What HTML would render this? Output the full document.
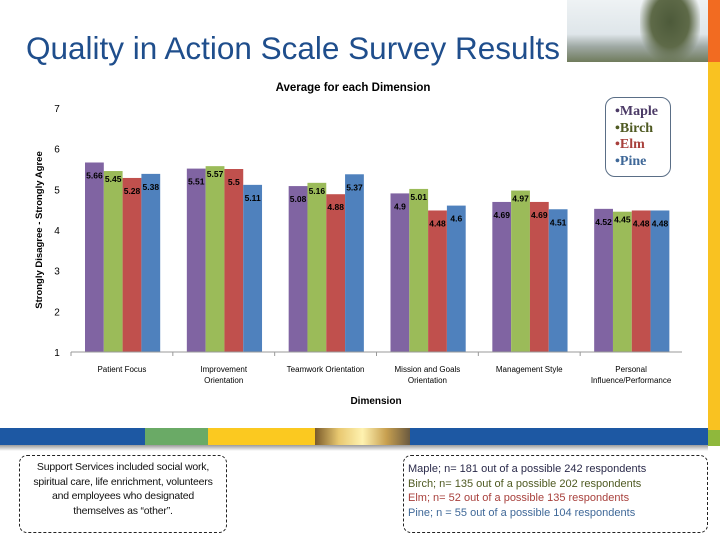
<!DOCTYPE html>
<html><head><meta charset="utf-8"><style>
body{margin:0;width:720px;height:540px;overflow:hidden;background:#fff;position:relative;font-family:"Liberation Sans",sans-serif}
.abs{position:absolute}
</style></head><body>
<div class="abs" style="left:26px;top:30px;font-size:31.5px;color:#1f4e8c;white-space:nowrap">Quality in Action Scale Survey Results</div>
<div class="abs" style="left:567px;top:0;width:141px;height:62px;background:linear-gradient(180deg,#eef2f4 0%,#dfe6ea 55%,#9fa9a4 75%,#6f7b5c 100%)"></div>
<div class="abs" style="left:640px;top:0;width:60px;height:62px;background:radial-gradient(ellipse at 50% 35%,#4d5a3a 0%,#5e6a48 45%,rgba(200,210,200,0) 75%)"></div>
<div class="abs" style="left:708px;top:0;width:12px;height:62px;background:#f26b21"></div>
<div class="abs" style="left:708px;top:62px;width:12px;height:368px;background:#f9c221"></div>
<div class="abs" style="left:708px;top:430px;width:12px;height:16px;background:#8fb83c"></div>
<div class="abs" style="left:0;top:428px;width:145px;height:17px;background:#1d58a3"></div>
<div class="abs" style="left:145px;top:428px;width:63px;height:17px;background:#6aaa66"></div>
<div class="abs" style="left:208px;top:428px;width:107px;height:17px;background:#fbc920"></div>
<div class="abs" style="left:315px;top:428px;width:95px;height:17px;background:linear-gradient(90deg,#7a5a2a,#e8c870,#fff2b0,#c8a050,#6a5a40)"></div>
<div class="abs" style="left:410px;top:428px;width:298px;height:17px;background:#1d58a3"></div>
<div class="abs" style="left:0;top:445px;width:708px;height:6px;background:linear-gradient(#9a9a9a,#fff)"></div>

<svg class="abs" style="left:0;top:0" width="720" height="420" font-family="Liberation Sans,sans-serif">
<text x="353" y="91" font-size="11.5" font-weight="bold" text-anchor="middle" fill="#000">Average for each Dimension</text>
<text transform="translate(42,230) rotate(-90)" font-size="9.5" font-weight="bold" text-anchor="middle" fill="#000">Strongly Disagree - Strongly Agree</text>
<text x="376" y="404" font-size="10" font-weight="bold" text-anchor="middle">Dimension</text>
<g id="yt"></g><g id="bars"></g><g id="xt"></g>
</svg>

<div class="abs" style="left:605px;top:97px;width:66px;height:80px;border:1px solid #5a6e86;border-radius:10px;font-family:'Liberation Serif',serif;font-size:14px;font-weight:bold;line-height:16.5px;padding:6px 0 0 9px;box-sizing:border-box">
<div style="color:#4b3a66">•Maple</div>
<div style="color:#4f5a22">•Birch</div>
<div style="color:#a8403c">•Elm</div>
<div style="color:#3f6898">•Pine</div>
</div>

<div class="abs" style="left:19px;top:455px;width:208px;height:78px;border:1.5px dashed #222;border-radius:8px;box-sizing:border-box;font-size:10.5px;letter-spacing:-0.2px;line-height:14.6px;text-align:center;padding:4px 6px 0;color:#111">Support Services included social work, spiritual care, life enrichment, volunteers and employees who designated themselves as “other”.</div>

<div class="abs" style="left:403px;top:455px;width:305px;height:78px;border:1.5px dashed #222;border-radius:8px;box-sizing:border-box;font-size:11px;line-height:14.6px;padding:6px 0 0 4px">
<div style="color:#2a2a4a">Maple; n= 181 out of a possible 242 respondents</div>
<div style="color:#4f5a22">Birch; n= 135 out of a possible 202 respondents</div>
<div style="color:#a8403c">Elm; n= 52 out of a possible 135 respondents</div>
<div style="color:#3f6898">Pine; n = 55 out of a possible 104 respondents</div>
</div>

<script>
const categories=["Patient Focus","Improvement|Orientation","Teamwork Orientation","Mission and Goals|Orientation","Management Style","Personal|Influence/Performance"];
const seriesNames=["Maple","Birch","Elm","Pine"];
const maple=[5.66,5.51,5.08,4.9,4.69,4.52];
const birch=[5.45,5.57,5.16,5.01,4.97,4.45];
const elm=[5.28,5.5,4.88,4.48,4.69,4.48];
const pine=[5.38,5.11,5.37,4.6,4.51,4.48];
const yTicks=[1,2,3,4,5,6,7];
const colors=["#8064a2","#9bbb59","#c0504d","#4f81bd"];
const NS="http://www.w3.org/2000/svg";
const x0=71,x1=682,yb=352,yt=108;
const gw=(x1-x0)/categories.length;
const y=v=>yb-(v-1)/(6)*(yb-yt);
const gy=document.getElementById('yt'),gb=document.getElementById('bars'),gx=document.getElementById('xt');
function mk(tag,at,parent){const e=document.createElementNS(NS,tag);for(const k in at)e.setAttribute(k,at[k]);parent.appendChild(e);return e;}
yTicks.forEach(t=>{const e=mk('text',{x:57,y:y(t)+4,'font-size':10,'text-anchor':'middle',fill:'#000'},gy);e.textContent=t;

});
const ax=mk('line',{x1:x0,x2:x1,y1:yb,y2:yb,stroke:'#999'},gx);


const series=[maple,birch,elm,pine];
categories.forEach((c,i)=>{
 const gx0=x0+i*gw;
 const tk=mk('line',{x1:gx0,x2:gx0,y1:yb,y2:yb+4,stroke:'#999'},gx);
 
 
 series.forEach((s,j)=>{
  const bx=gx0+14+j*18.8;
  const r=mk('rect',{x:bx,y:y(s[i]),width:18.8,height:yb-y(s[i]),fill:colors[j]},gb);
  
  
  const l=mk('text',{x:bx+9.4,y:y(s[i])+(j===1?11:16),'font-size':8.5,'font-weight':'bold','text-anchor':'middle',fill:'#000'},gb);
  l.textContent=s[i];
  
  
 });
 c.split('|').forEach((ln,k)=>{
  const t=mk('text',{x:gx0+gw/2,y:372+k*11,'font-size':8,'text-anchor':'middle',fill:'#000'},gx);
  t.textContent=ln;
  
  
 });
});
</script>
</body></html>
